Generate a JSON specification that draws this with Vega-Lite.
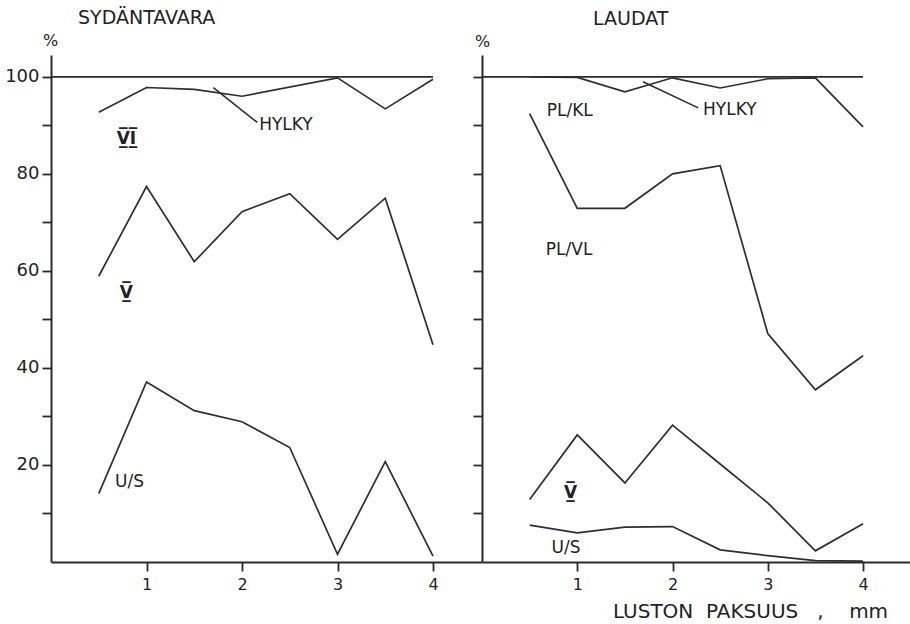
{
  "$schema": "https://vega.github.io/schema/vega-lite/v6.json",
  "background": "white",
  "padding": {"left": 4, "top": 9, "right": 0, "bottom": 0},
  "bounds": "flush",
  "spacing": 0,
  "config": {
    "view": {"stroke": null},
    "font": "DejaVu Sans",
    "axis": {
      "grid": false,
      "domainColor": "#2b2b2b",
      "domainWidth": 2,
      "tickColor": "#2b2b2b",
      "tickWidth": 1.8,
      "tickSize": 9,
      "labelFont": "DejaVu Sans",
      "labelColor": "#222",
      "titleFont": "DejaVu Sans",
      "titleColor": "#222",
      "titleFontWeight": "normal"
    },
    "axisX": {"labelFontSize": 16, "labelPadding": 5},
    "axisY": {"labelFontSize": 18, "labelPadding": 3},
    "title": {"font": "DejaVu Sans", "fontSize": 19, "fontWeight": "normal", "color": "#222"}
  },
  "datasets": {
    "curves": [
      {"panel": "L", "series": "HYLKY", "x": 0.5, "y": 92.7},
      {"panel": "L", "series": "HYLKY", "x": 1, "y": 97.8},
      {"panel": "L", "series": "HYLKY", "x": 1.5, "y": 97.4},
      {"panel": "L", "series": "HYLKY", "x": 2, "y": 96.0},
      {"panel": "L", "series": "HYLKY", "x": 3, "y": 99.8},
      {"panel": "L", "series": "HYLKY", "x": 3.5, "y": 93.4},
      {"panel": "L", "series": "HYLKY", "x": 4, "y": 99.5},
      {"panel": "L", "series": "V", "x": 0.5, "y": 58.9},
      {"panel": "L", "series": "V", "x": 1, "y": 77.4},
      {"panel": "L", "series": "V", "x": 1.5, "y": 61.9},
      {"panel": "L", "series": "V", "x": 2, "y": 72.2},
      {"panel": "L", "series": "V", "x": 2.5, "y": 75.9},
      {"panel": "L", "series": "V", "x": 3, "y": 66.5},
      {"panel": "L", "series": "V", "x": 3.5, "y": 75.0},
      {"panel": "L", "series": "V", "x": 4, "y": 44.8},
      {"panel": "L", "series": "U/S", "x": 0.5, "y": 14.1},
      {"panel": "L", "series": "U/S", "x": 1, "y": 37.1},
      {"panel": "L", "series": "U/S", "x": 1.5, "y": 31.2},
      {"panel": "L", "series": "U/S", "x": 2, "y": 28.9},
      {"panel": "L", "series": "U/S", "x": 2.5, "y": 23.6},
      {"panel": "L", "series": "U/S", "x": 3, "y": 1.6},
      {"panel": "L", "series": "U/S", "x": 3.5, "y": 20.7},
      {"panel": "L", "series": "U/S", "x": 4, "y": 1.2},
      {"panel": "R", "series": "PL/KL", "x": 0.5, "y": 100},
      {"panel": "R", "series": "PL/KL", "x": 1, "y": 99.9},
      {"panel": "R", "series": "PL/KL", "x": 1.5, "y": 96.9},
      {"panel": "R", "series": "PL/KL", "x": 2, "y": 99.8},
      {"panel": "R", "series": "PL/KL", "x": 2.5, "y": 97.7},
      {"panel": "R", "series": "PL/KL", "x": 3, "y": 99.6},
      {"panel": "R", "series": "PL/KL", "x": 3.5, "y": 99.8},
      {"panel": "R", "series": "PL/KL", "x": 4, "y": 89.7},
      {"panel": "R", "series": "PL/VL", "x": 0.5, "y": 92.4},
      {"panel": "R", "series": "PL/VL", "x": 1, "y": 72.9},
      {"panel": "R", "series": "PL/VL", "x": 1.5, "y": 72.9},
      {"panel": "R", "series": "PL/VL", "x": 2, "y": 80.0},
      {"panel": "R", "series": "PL/VL", "x": 2.5, "y": 81.7},
      {"panel": "R", "series": "PL/VL", "x": 3, "y": 47.1},
      {"panel": "R", "series": "PL/VL", "x": 3.5, "y": 35.5},
      {"panel": "R", "series": "PL/VL", "x": 4, "y": 42.5},
      {"panel": "R", "series": "V", "x": 0.5, "y": 12.9},
      {"panel": "R", "series": "V", "x": 1, "y": 26.2},
      {"panel": "R", "series": "V", "x": 1.5, "y": 16.3},
      {"panel": "R", "series": "V", "x": 2, "y": 28.2},
      {"panel": "R", "series": "V", "x": 2.5, "y": 20.2},
      {"panel": "R", "series": "V", "x": 3, "y": 12.2},
      {"panel": "R", "series": "V", "x": 3.5, "y": 2.3},
      {"panel": "R", "series": "V", "x": 4, "y": 7.9},
      {"panel": "R", "series": "U/S", "x": 0.5, "y": 7.6},
      {"panel": "R", "series": "U/S", "x": 1, "y": 6.0},
      {"panel": "R", "series": "U/S", "x": 1.5, "y": 7.2},
      {"panel": "R", "series": "U/S", "x": 2, "y": 7.3},
      {"panel": "R", "series": "U/S", "x": 2.5, "y": 2.5},
      {"panel": "R", "series": "U/S", "x": 3, "y": 1.3},
      {"panel": "R", "series": "U/S", "x": 3.5, "y": 0.3},
      {"panel": "R", "series": "U/S", "x": 4, "y": 0.2}
    ],
    "reference": [
      {"panel": "L", "x": 0, "x2": 4, "y": 100},
      {"panel": "R", "x": 0, "x2": 4, "y": 100}
    ],
    "leaders": [
      {"panel": "L", "x": 1.70, "y": 97.8, "x2": 2.16, "y2": 90.6},
      {"panel": "R", "x": 1.69, "y": 99.0, "x2": 2.27, "y2": 93.6}
    ],
    "names": [
      {"panel": "L", "text": "HYLKY", "x": 2.18, "y": 90.0},
      {"panel": "L", "text": "U/S", "x": 0.67, "y": 16.4},
      {"panel": "R", "text": "PL/KL", "x": 0.68, "y": 93.0},
      {"panel": "R", "text": "HYLKY", "x": 2.32, "y": 93.1},
      {"panel": "R", "text": "PL/VL", "x": 0.67, "y": 64.3},
      {"panel": "R", "text": "U/S", "x": 0.73, "y": 2.9}
    ],
    "classes": [
      {"panel": "L", "text": "V̲̅I̲̅", "x": 0.79, "y": 87.1},
      {"panel": "L", "text": "V̲̅", "x": 0.79, "y": 55.4},
      {"panel": "R", "text": "V̲̅", "x": 0.93, "y": 14.3}
    ]
  },
  "hconcat": [
    {
      "width": 431,
      "height": 507,
      "title": {"text": "SYDÄNTAVARA", "anchor": "start", "frame": "group", "dx": 27, "offset": 4},
      "layer": [
        {
          "data": {"name": "reference"},
          "transform": [{"filter": "datum.panel === 'L'"}],
          "mark": {"type": "rule", "color": "#2b2b2b", "strokeWidth": 1.7},
          "encoding": {
            "x": {"field": "x", "type": "quantitative", "scale": {"domain": [0, 4.513], "nice": false, "zero": false},
                  "axis": {"values": [1, 2, 3, 4], "title": null, "format": "d"}},
            "x2": {"field": "x2"},
            "y": {"field": "y", "type": "quantitative", "scale": {"domain": [0, 104.5], "nice": false},
                  "axis": {"values": [10, 20, 30, 40, 50, 60, 70, 80, 90, 100],
                           "labelExpr": "datum.value % 20 === 0 ? datum.label : ''",
                           "title": "%", "titleAngle": 0, "titleX": -1, "titleY": -15,
                           "titleAlign": "center", "titleBaseline": "middle", "titleFontSize": 16}}
          }
        },
        {
          "data": {"name": "curves"},
          "transform": [{"filter": "datum.panel === 'L'"}],
          "mark": {"type": "line", "color": "#2e2e2e", "strokeWidth": 1.7},
          "encoding": {
            "x": {"field": "x", "type": "quantitative"},
            "y": {"field": "y", "type": "quantitative"},
            "detail": {"field": "series"}
          }
        },
        {
          "data": {"name": "leaders"},
          "transform": [{"filter": "datum.panel === 'L'"}],
          "mark": {"type": "rule", "color": "#2e2e2e", "strokeWidth": 1.6},
          "encoding": {
            "x": {"field": "x", "type": "quantitative"},
            "y": {"field": "y", "type": "quantitative"},
            "x2": {"field": "x2"},
            "y2": {"field": "y2"}
          }
        },
        {
          "data": {"name": "names"},
          "transform": [{"filter": "datum.panel === 'L'"}],
          "mark": {"type": "text", "align": "left", "baseline": "middle", "fontSize": 17, "color": "#222"},
          "encoding": {
            "x": {"field": "x", "type": "quantitative"},
            "y": {"field": "y", "type": "quantitative"},
            "text": {"field": "text"}
          }
        },
        {
          "data": {"name": "classes"},
          "transform": [{"filter": "datum.panel === 'L'"}],
          "mark": {"type": "text", "align": "center", "baseline": "middle", "fontSize": 17, "fontWeight": "bold", "color": "#222"},
          "encoding": {
            "x": {"field": "x", "type": "quantitative"},
            "y": {"field": "y", "type": "quantitative"},
            "text": {"field": "text"}
          }
        }
      ]
    },
    {
      "width": 428,
      "height": 507,
      "title": {"text": "LAUDAT", "anchor": "start", "frame": "group", "dx": 111, "offset": 4},
      "layer": [
        {
          "data": {"name": "reference"},
          "transform": [{"filter": "datum.panel === 'R'"}],
          "mark": {"type": "rule", "color": "#2b2b2b", "strokeWidth": 1.7},
          "encoding": {
            "x": {"field": "x", "type": "quantitative", "scale": {"domain": [0, 4.493], "nice": false, "zero": false},
                  "axis": {"values": [1, 2, 3, 4], "format": "d",
                           "title": "LUSTON\u00a0\u00a0PAKSUUS\u00a0\u00a0\u00a0,\u00a0\u00a0\u00a0\u00a0mm",
                           "titleFontSize": 20, "titleX": 268, "titleY": 55,
                           "titleAlign": "center", "titleBaseline": "alphabetic"}},
            "x2": {"field": "x2"},
            "y": {"field": "y", "type": "quantitative", "scale": {"domain": [0, 104.5], "nice": false},
                  "axis": {"values": [10, 20, 30, 40, 50, 60, 70, 80, 90, 100], "labels": false,
                           "title": "%", "titleAngle": 0, "titleX": 0, "titleY": -14,
                           "titleAlign": "center", "titleBaseline": "middle", "titleFontSize": 16}}
          }
        },
        {
          "data": {"name": "curves"},
          "transform": [{"filter": "datum.panel === 'R'"}],
          "mark": {"type": "line", "color": "#2e2e2e", "strokeWidth": 1.7},
          "encoding": {
            "x": {"field": "x", "type": "quantitative"},
            "y": {"field": "y", "type": "quantitative"},
            "detail": {"field": "series"}
          }
        },
        {
          "data": {"name": "leaders"},
          "transform": [{"filter": "datum.panel === 'R'"}],
          "mark": {"type": "rule", "color": "#2e2e2e", "strokeWidth": 1.6},
          "encoding": {
            "x": {"field": "x", "type": "quantitative"},
            "y": {"field": "y", "type": "quantitative"},
            "x2": {"field": "x2"},
            "y2": {"field": "y2"}
          }
        },
        {
          "data": {"name": "names"},
          "transform": [{"filter": "datum.panel === 'R'"}],
          "mark": {"type": "text", "align": "left", "baseline": "middle", "fontSize": 17, "color": "#222"},
          "encoding": {
            "x": {"field": "x", "type": "quantitative"},
            "y": {"field": "y", "type": "quantitative"},
            "text": {"field": "text"}
          }
        },
        {
          "data": {"name": "classes"},
          "transform": [{"filter": "datum.panel === 'R'"}],
          "mark": {"type": "text", "align": "center", "baseline": "middle", "fontSize": 17, "fontWeight": "bold", "color": "#222"},
          "encoding": {
            "x": {"field": "x", "type": "quantitative"},
            "y": {"field": "y", "type": "quantitative"},
            "text": {"field": "text"}
          }
        }
      ]
    }
  ]
}
